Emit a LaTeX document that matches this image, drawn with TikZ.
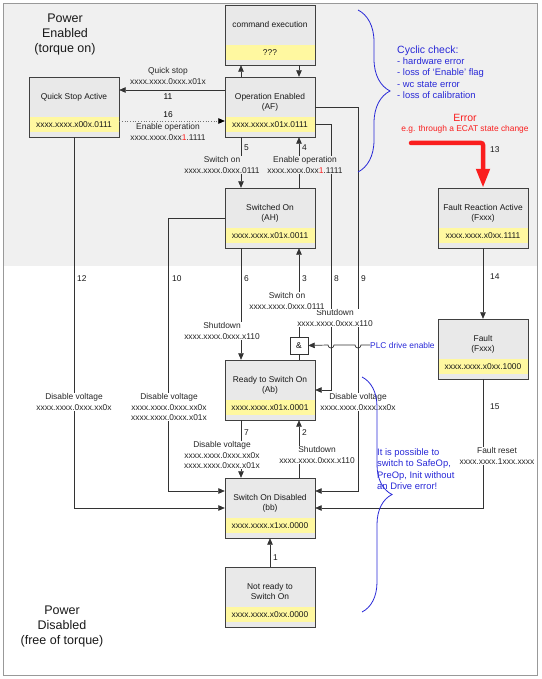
\documentclass[tikz,border=0pt]{standalone}
\usepackage{fontspec}
\setmainfont{Liberation Sans}
\usetikzlibrary{arrows.meta,decorations.pathreplacing,shadows}
\definecolor{topgray}{RGB}{240,240,240}
\definecolor{boxgray}{RGB}{233,233,233}
\definecolor{codeyellow}{RGB}{255,248,160}
\definecolor{noteblue}{RGB}{40,40,215}
\definecolor{errred}{RGB}{250,30,30}
\newcommand{\lblfont}{\fontsize{8.4}{10.5}\selectfont}
\newcommand{\redone}{\textcolor{errred}{1}}

\begin{document}
\begin{tikzpicture}[x=1pt,y=-1pt,>={Triangle[length=6.5pt,width=5.5pt]}]
        \tikzstyle{state}=[rectangle,draw=black!75,fill=boxgray,minimum width=90pt,minimum height=60pt,inner sep=0pt,
          drop shadow={shadow xshift=1pt,shadow yshift=-1pt,opacity=0.45},
          path picture={\fill[codeyellow] ([yshift=5pt]path picture bounding box.south west) rectangle ([yshift=20pt]path picture bounding box.south east);}]
        \tikzstyle{title}=[anchor=north,yshift=-16pt,align=center,inner sep=0pt,font=\lblfont,text=black!90]
        \tikzstyle{code}=[yshift=12.5pt,inner sep=0pt,font=\lblfont,text=black!90]
        \tikzstyle{edge}=[draw=black!80,line width=0.7pt,->]
        \tikzstyle{lbl}=[align=center,fill=white,inner sep=0.3pt,font=\lblfont,text=black!85]
        \tikzstyle{toplbl}=[lbl,fill=topgray]
        \tikzstyle{num}=[anchor=west,inner sep=0pt,font=\lblfont,text=black!90]
        \tikzstyle{note}=[align=left,anchor=west,inner sep=0pt,text=noteblue,font=\fontsize{9.4}{11.3}\selectfont]
        \useasboundingbox (0,0) rectangle (541,679);
        \fill[topgray] (3,3) rectangle (537,266);
        \draw[black!40] (3,3) rectangle (537,675);
        % states
        \node [state] (cmd) at (270,35) {};
        \node [title] (cmd-t) at (cmd.north) {command execution};
        \node [code] (cmd-c) at (cmd.south) {???};
        \node [state] (oe) at (270,107) {};
        \node [title] (oe-t) at (oe.north) {Operation Enabled\\(AF)};
        \node [code] (oe-c) at (oe.south) {xxxx.xxxx.x01x.0111};
        \node [state] (qsa) at (74,107) {};
        \node [title] (qsa-t) at (qsa.north) {Quick Stop Active};
        \node [code] (qsa-c) at (qsa.south) {xxxx.xxxx.x00x.0111};
        \node [state] (so) at (270,218) {};
        \node [title] (so-t) at (so.north) {Switched On\\(AH)};
        \node [code] (so-c) at (so.south) {xxxx.xxxx.x01x.0011};
        \node [state] (fra) at (483,218) {};
        \node [title] (fra-t) at (fra.north) {Fault Reaction Active\\(Fxxx)};
        \node [code] (fra-c) at (fra.south) {xxxx.xxxx.x0xx.1111};
        \node [state] (fault) at (483,349) {};
        \node [title] (fault-t) at (fault.north) {Fault\\(Fxxx)};
        \node [code] (fault-c) at (fault.south) {xxxx.xxxx.x0xx.1000};
        \node [state] (rso) at (270,390) {};
        \node [title] (rso-t) at (rso.north) {Ready to Switch On\\(Ab)};
        \node [code] (rso-c) at (rso.south) {xxxx.xxxx.x01x.0001};
        \node [state] (sod) at (270,508) {};
        \node [title] (sod-t) at (sod.north) {Switch On Disabled\\(bb)};
        \node [code] (sod-c) at (sod.south) {xxxx.xxxx.x1xx.0000};
        \node [state] (nrso) at (270,597) {};
        \node [title] (nrso-t) at (nrso.north) {Not ready to\\Switch On};
        \node [code] (nrso-c) at (nrso.south) {xxxx.xxxx.x0xx.0000};
        \node [draw=black!80,fill=white,minimum width=18pt,minimum height=17pt,inner sep=0pt,font=\lblfont] (and) at (299,345.5) {\&};
        \node [anchor=west,inner sep=0pt,text=noteblue,font=\lblfont] (plc) at (370,345) {PLC drive enable};
        \coordinate (err) at (411,143);
        % transitions
        \path[edge] ([xshift=-29pt]oe.north) -- ([xshift=-29pt]cmd.south);
        \path[edge] ([xshift=29pt]cmd.south) -- ([xshift=29pt]oe.north);
        \path[edge] ([yshift=17pt]oe.west) -- ([yshift=17pt]qsa.east);
        \path[edge,dotted,draw=black!55,-{Triangle[length=6.5pt,width=5.5pt,black]}] ([yshift=-14pt]qsa.east) -- ([yshift=-14pt]oe.west);
        \path[edge] ([xshift=-29pt]oe.south) -- ([xshift=-29pt]so.north);
        \path[edge] ([xshift=29pt]so.north) -- ([xshift=29pt]oe.south);
        \path[edge] ([xshift=-29pt]so.south) -- ([xshift=-29pt]rso.north);
        \path[edge] (and.north) -- (and.north |- so.south);
        \path[draw=black!80,line width=0.7pt] (and.south) -- (and.south |- rso.north);
        \path[edge] ([yshift=-17pt]oe.east) -| ([xshift=16pt]rso.east) -- (rso.east);
        \path[edge] (oe.east) -| ([xshift=43pt,yshift=17pt]sod.east) -- ([yshift=17pt]sod.east);
        \path[edge] (so.west) -| ([xshift=-56pt,yshift=17pt]sod.west) -- ([yshift=17pt]sod.west);
        \path[edge] (qsa.south) |- (sod.west);
        \path[edge] ([xshift=-29pt]rso.south) -- ([xshift=-29pt]sod.north);
        \path[edge] ([xshift=29pt]sod.north) -- ([xshift=29pt]rso.south);
        \path[edge] (nrso.north) -- (sod.south);
        \path[edge] (fra.south) -- (fault.north);
        \path[edge] (fault.south) |- (sod.east);
        \path[edge] (plc.west) -- (361,345) arc[start angle=0,end angle=-180,radius=3pt] -- (334,345) arc[start angle=0,end angle=-180,radius=3pt] -- (and.east);
        \draw[errred,line width=4.5pt,line cap=round,rounded corners=2pt,-{Triangle[length=19pt,width=13pt]}] (err) -| (fra.north);
        % labels
        \node [toplbl] (l11) at (168,76) {Quick stop\\xxxx.xxxx.0xxx.x01x};
        \node [toplbl] (l16) at (168,132) {Enable operation\\xxxx.xxxx.0xx\redone.1111};
        \node [toplbl] (l5) at (222,165) {Switch on\\xxxx.xxxx.0xxx.0111};
        \node [toplbl] (l4) at (305,165) {Enable operation\\xxxx.xxxx.0xx\redone.1111};
        \node [lbl] (l6) at (222,331) {Shutdown\\xxxx.xxxx.0xxx.x110};
        \node [lbl] (l8) at (335,318) {Shutdown\\xxxx.xxxx.0xxx.x110};
        \node [lbl] (l3) at (287,301) {Switch on\\xxxx.xxxx.0xxx.0111};
        \node [lbl] (l9) at (358,402) {Disable voltage\\xxxx.xxxx.0xxx.xx0x};
        \node [lbl] (l12) at (74,402) {Disable voltage\\xxxx.xxxx.0xxx.xx0x};
        \node [lbl] (l10) at (169,407) {Disable voltage\\xxxx.xxxx.0xxx.xx0x\\xxxx.xxxx.0xxx.x01x};
        \node [lbl] (l7) at (222,455) {Disable voltage\\xxxx.xxxx.0xxx.xx0x\\xxxx.xxxx.0xxx.x01x};
        \node [lbl] (l2) at (317,455) {Shutdown\\xxxx.xxxx.0xxx.x110};
        \node [lbl] (l15) at (497,456) {Fault reset\\xxxx.xxxx.1xxx.xxxx};
        \node [font=\lblfont,inner sep=0pt] (n11) at (168,97) {11};
        \node [font=\lblfont,inner sep=0pt] (n16) at (168,115) {16};
        \node [num] (n5) at (244,148) {5};
        \node [num] (n4) at (302,148) {4};
        \node [num] (n6) at (244,279) {6};
        \node [num] (n3) at (302,279) {3};
        \node [num] (n8) at (334,279) {8};
        \node [num] (n9) at (361,279) {9};
        \node [num] (n10) at (172,279) {10};
        \node [num] (n12) at (77,279) {12};
        \node [num] (n7) at (244,433) {7};
        \node [num] (n2) at (302,433) {2};
        \node [num] (n1) at (273,558) {1};
        \node [num] (n13) at (490,150) {13};
        \node [num] (n14) at (490,277) {14};
        \node [num] (n15) at (490,407) {15};
        % notes
        \node [align=center,font=\fontsize{12.5}{15}\selectfont,text=black!90] (pe) at (65,34) {Power\\Enabled\\(torque on)};
        \node [align=center,font=\fontsize{12.5}{15}\selectfont,text=black!90] (pd) at (62,626) {Power\\Disabled\\(free of torque)};
        \node [note] (cyc) at (397,72) {{\fontsize{10.5}{11.3}\selectfont Cyclic check:}\\- hardware error\\- loss of `Enable' flag\\- wc state error\\- loss of calibration};
        \node [note] (safe) at (377,469) {It is possible to\\switch to SafeOp,\\PreOp, Init without\\an Drive error!};
        \node [align=center,inner sep=0pt,text=errred,font=\lblfont] (errtxt) at (465,124) {{\fontsize{10.5}{11}\selectfont Error}\\e.g. through a ECAT state change};
        \draw[noteblue,line width=0.8pt,decorate,decoration={brace,amplitude=32pt}] (358,10) -- (358,172);
        \draw[noteblue,line width=0.8pt,decorate,decoration={brace,amplitude=30pt}] (362,377) -- (362,612);
\end{tikzpicture}
\end{document}
